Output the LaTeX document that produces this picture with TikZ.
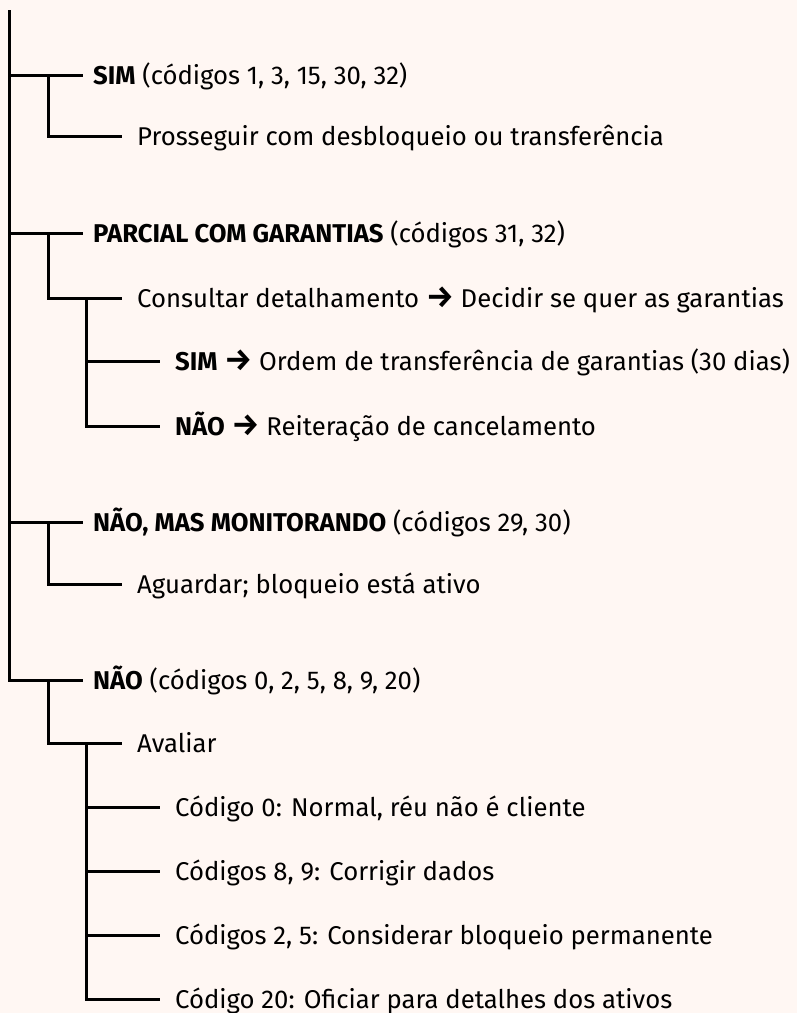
\documentclass[tikz,border=0pt]{standalone}
\usepackage{fontspec}
\setmainfont{Fira Sans}
\definecolor{bgc}{RGB}{255,247,243}
\newcommand{\arr}{{\bfseries\fontsize{31pt}{31pt}\selectfont →}}
\tikzset{
  tree/.style={line width=3pt, black, line cap=butt},
  lbl/.style={anchor=west, inner ysep=0pt, text height=23pt, text depth=5pt, font=\fontsize{25.7pt}{30pt}\selectfont},
  lvla/.style={lbl, inner xsep=10pt},
  lvlb/.style={lbl, inner xsep=15pt},
}
\begin{document}
\begin{tikzpicture}[x=1pt,y=1pt]
\fill[bgc] (0,0) rectangle (797,-1013);
\useasboundingbox (0,0) rectangle (797,-1013);
\coordinate (top) at (9,-10);
% level 1
\node[lvla] (s1) at (83,-75) {\textbf{SIM} (códigos 1, 3, 15, 30, 32)};
\node[lvla] (p) at (83,-233) {\textbf{PARCIAL COM GARANTIAS} (códigos 31, 32)};
\node[lvla] (m) at (83,-522) {\textbf{NÃO, MAS MONITORANDO} (códigos 29, 30)};
\node[lvla] (n) at (83,-680) {\textbf{NÃO} (códigos 0, 2, 5, 8, 9, 20)};
% level 2
\node[lvlb] (s1a) at (122,-136) {Prosseguir com desbloqueio ou transferência};
\node[lvlb] (pa) at (122,-298) {Consultar detalhamento \arr{} Decidir se quer as garantias};
\node[lvlb] (ma) at (122,-584) {Aguardar; bloqueio está ativo};
\node[lvlb] (na) at (122,-743) {Avaliar};
% level 3
\node[lvlb] (pa1) at (160,-361) {\textbf{SIM} \arr{} Ordem de transferência de garantias (30 dias)};
\node[lvlb] (pa2) at (160,-426) {\textbf{NÃO} \arr{} Reiteração de cancelamento};
\node[lvlb] (na1) at (160,-807) {Código 0: Normal, réu não é cliente};
\node[lvlb] (na2) at (160,-871) {Códigos 8, 9: Corrigir dados};
\node[lvlb] (na3) at (160,-935) {Códigos 2, 5: Considerar bloqueio permanente};
\node[lvlb] (na4) at (160,-999) {Código 20: Oficiar para detalhes dos ativos};
% junctions
\coordinate (j1) at (48,-75);
\coordinate (j2) at (48,-233);
\coordinate (j3) at (48,-522);
\coordinate (j4) at (48,-680);
\coordinate (k1) at (86,-298);
\coordinate (k2) at (86,-743);
% connectors
\draw[tree] (top) |- (n.west);
\draw[tree] (top |- s1.west) -- (s1.west);
\draw[tree] (top |- p.west) -- (p.west);
\draw[tree] (top |- m.west) -- (m.west);
\draw[tree] (j1) |- (s1a.west);
\draw[tree] (j2) |- (pa.west);
\draw[tree] (j3) |- (ma.west);
\draw[tree] (j4) |- (na.west);
\draw[tree] (k1) |- (pa2.west);
\draw[tree] (k1 |- pa1.west) -- (pa1.west);
\draw[tree] (k2) |- (na4.west);
\draw[tree] (k2 |- na1.west) -- (na1.west);
\draw[tree] (k2 |- na2.west) -- (na2.west);
\draw[tree] (k2 |- na3.west) -- (na3.west);
\end{tikzpicture}
\end{document}
